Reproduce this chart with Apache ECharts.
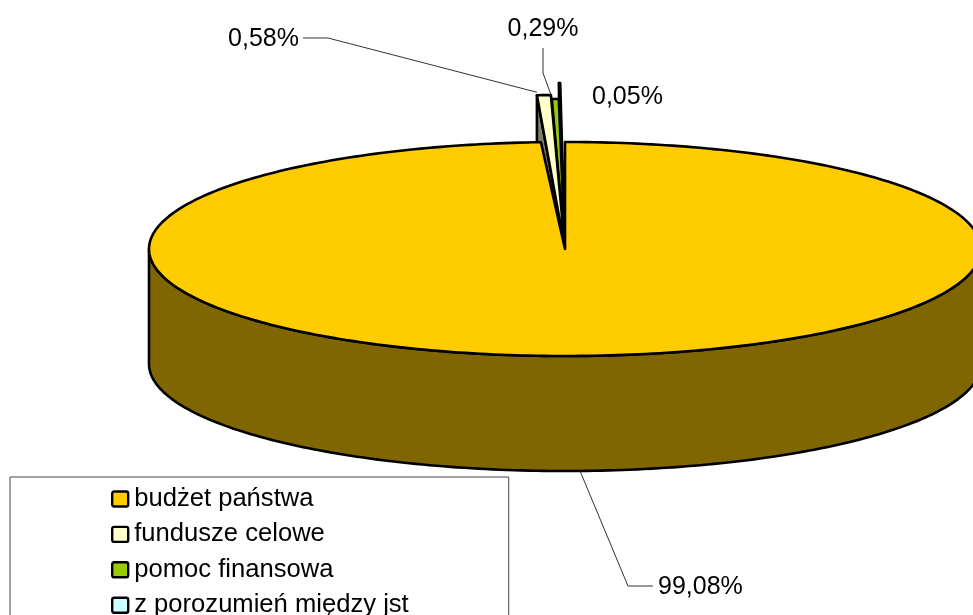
<!DOCTYPE html>
<html><head><meta charset="utf-8">
<style>html,body{margin:0;padding:0;background:#fff;overflow:hidden}#c{width:973px;height:615px}</style>
<script src="https://cdn.jsdelivr.net/npm/echarts@6/dist/echarts.min.js"></script>
</head><body><div id="c"></div>
<script>
const categories = ['budżet państwa', 'fundusze celowe', 'pomoc finansowa', 'z porozumień między jst'];
const values = [99.08, 0.58, 0.29, 0.05];
const colors = ['#ffcc00', '#ffffcc', '#99cc00', '#ccffff'];
const wallColors = ['#806600', '#808066', '#4d6600', '#668080'];
// drawing style of each slice: top-face radii and sideways shift of its outer rim
const radiusX = [416, 384, 384, 384];
const radiusY = [107, 154, 150, 166];
const shiftX = [0, -5.9, -5, -4.8];
// label placement: text anchor and optional leader bend points
const labelPos = [[658, 587], [299, 39], [543, 29], [592, 97]];
const labelAlign = ['left', 'right', 'center', 'left'];
const leaderStartShift = [3, 0, 0, 0];
const leaderBends = [[[628, 586], [653, 586]], [[328, 38], [303, 38]], [[543, 73], [543, 48]], []];

const cx = 565, cy = 249, depth = 115, RAD = Math.PI / 180;
const total = values.reduce((a, b) => a + b, 0);
const pt = (i, deg, dy) => [
  cx + shiftX[i] + radiusX[i] * Math.sin(deg * RAD),
  cy + (dy || 0) - radiusY[i] * Math.cos(deg * RAD)
];
function sweep(i) {
  let s = 0;
  for (let k = 0; k < i; k++) s += values[k];
  return [s / total * 360, (s + values[i]) / total * 360];
}
const edge = { stroke: '#000', lineWidth: 2.6, lineJoin: 'round' };
function renderSlice(params, api) {
  const i = categories.indexOf(params.seriesName);
  const v = api.value(0);
  const [a0, a1] = sweep(i);
  const apex = [cx, cy];
  const children = [];
  if (i === 0) {
    // outer wall along the front half of the rim
    const wall = [];
    for (let d = 90; d <= 270; d += 1) wall.push(pt(0, d, depth));
    for (let d = 270; d >= 90; d -= 1) wall.push(pt(0, d, 0));
    children.push({ type: 'polygon', shape: { points: wall }, style: Object.assign({ fill: wallColors[0] }, edge) });
  } else {
    const p = pt(i, a0);
    children.push({ type: 'polygon',
      shape: { points: [p, [p[0], p[1] + depth], [cx, cy + depth], apex] },
      style: Object.assign({ fill: wallColors[i] }, edge) });
  }
  const top = [apex];
  const steps = Math.max(2, Math.ceil(a1 - a0));
  for (let k = 0; k <= steps; k++) top.push(pt(i, a0 + (a1 - a0) * k / steps));
  children.push({ type: 'polygon', shape: { points: top }, style: Object.assign({ fill: colors[i] }, edge) });

  // leader line and percentage label
  const mid = (a0 + a1) / 2;
  const start = i === 0 ? pt(0, mid, depth) : (i === 1 ? pt(1, a0, -3) : pt(i, a0, -2));
  start[0] += leaderStartShift[i];
  const bends = leaderBends[i];
  if (bends.length) {
    children.push({ type: 'polyline', shape: { points: [start].concat(bends) },
      style: { stroke: '#333', lineWidth: 1, fill: null } });
  }
  children.push({ type: 'text', style: {
    text: v.toFixed(2).replace('.', ',') + '%',
    x: labelPos[i][0], y: labelPos[i][1],
    align: labelAlign[i], verticalAlign: 'middle',
    fontFamily: '"Liberation Sans", Arial, sans-serif', fontSize: 25, fill: '#000' } });
  return { type: 'group', children };
}
const series = categories.map((name, i) => ({
  type: 'custom', name, coordinateSystem: 'none', silent: true, animation: false,
  itemStyle: { color: colors[i] }, renderItem: renderSlice, data: [[values[i]]]
})).reverse();

const chart = echarts.init(document.getElementById('c'), null, { renderer: 'canvas' });
chart.setOption({
  backgroundColor: '#fff', animation: false,
  legend: {
    data: categories.map((name, i) => ({ name, icon: 'path://M2,0H14Q16,0 16,2V13Q16,15 14,15H2Q0,15 0,13V2Q0,0 2,0Z',
      itemStyle: { color: colors[i], borderColor: '#000', borderWidth: 2.4 } })),
    orient: 'vertical', left: 10, top: 477, height: 400, selectedMode: false,
    padding: [9, 100, 30, 101], itemGap: 9.4, itemWidth: 16, itemHeight: 15,
    borderColor: '#444', borderWidth: 1, backgroundColor: '#fff',
    textStyle: { fontFamily: '"Liberation Sans", Arial, sans-serif', fontSize: 25.6, color: '#000', padding: [0, 0, 0, 1] }
  },
  series
});
</script></body></html>
